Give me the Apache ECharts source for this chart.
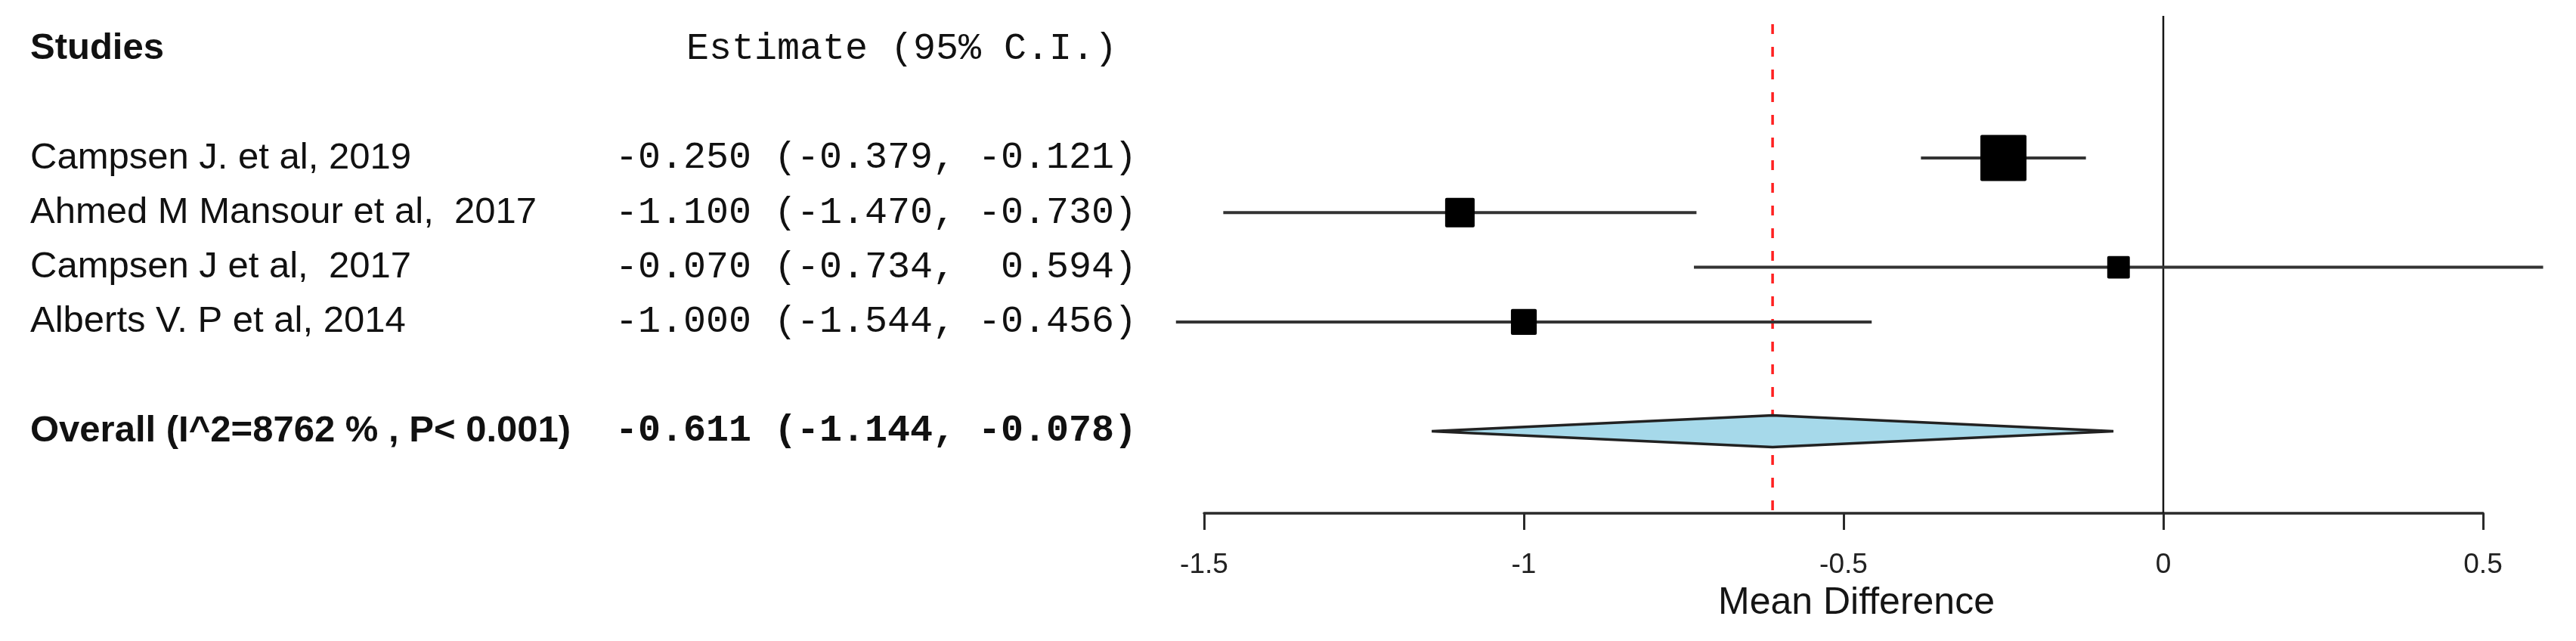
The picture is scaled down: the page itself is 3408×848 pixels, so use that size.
<!DOCTYPE html>
<html>
<head>
<meta charset="utf-8">
<title>Forest plot - Mean Difference</title>
<script src="https://cdn.jsdelivr.net/npm/echarts@6/dist/echarts.min.js"></script>
<style>
  html, body { margin: 0; padding: 0; background: #fff; }
  #forest { width: 3408px; height: 848px; }
</style>
</head>
<body>
<div id="forest"></div>
<script>
// study data
const studies = ['Campsen J. et al, 2019', 'Ahmed M Mansour et al,  2017', 'Campsen J et al,  2017', 'Alberts V. P et al, 2014']
const estimates = [-0.250, -1.100, -0.070, -1.000]
const ciLower = [-0.379, -1.470, -0.734, -1.544]
const ciUpper = [-0.121, -0.730, 0.594, -0.456]
const weights = [100, 64, 49, 56] // relative box size, % of the largest

const overallLabel = 'Overall (I^2=8762 % , P< 0.001)'
const overallEst = -0.611
const overallLower = -1.144
const overallUpper = -0.078

const headerLabels = ['Studies', 'Estimate (95% C.I.)']
const xTicks = [-1.5, -1, -0.5, 0, 0.5]
const xAxisName = 'Mean Difference'

const SANS = '"Liberation Sans", Arial, Helvetica, sans-serif'
const MONO = '"Liberation Mono", "Courier New", monospace'
const BOX_MAX = 61
const OVERALL_ROW = 6

function fmt (v) {
  return v.toFixed(3).padStart(6)
}
function ciText (e, lo, hi) {
  return fmt(e) + ' (' + fmt(lo) + ', ' + fmt(hi) + ')'
}

// text table on the left
const textRows = [{ row: -1, name: headerLabels[0], est: headerLabels[1], bold: true, estX: 908, estBold: false }]
studies.forEach((s, i) => {
  textRows.push({ row: i + 1, name: s, est: ciText(estimates[i], ciLower[i], ciUpper[i]), bold: false, estX: 814, estBold: false })
})
textRows.push({ row: OVERALL_ROW, name: overallLabel, est: ciText(overallEst, overallLower, overallUpper), bold: true, estX: 814, estBold: true })

const chart = echarts.init(document.getElementById('forest'))
chart.setOption({
  backgroundColor: '#ffffff',
  animation: false,
  grid: { left: 1593, right: 123, top: 21, bottom: 169 },
  xAxis: {
    type: 'value',
    min: xTicks[0],
    max: xTicks[xTicks.length - 1],
    interval: 0.5,
    name: xAxisName,
    nameLocation: 'middle',
    nameGap: 94,
    nameTextStyle: { fontFamily: SANS, fontSize: 50, color: '#151515', padding: [0, 0, 0, 34] },
    axisLine: { show: true, onZero: false, lineStyle: { color: '#2a2a2a', width: 3.5 } },
    axisTick: { show: true, length: 22, lineStyle: { color: '#2a2a2a', width: 3 } },
    axisLabel: { margin: 50, fontFamily: SANS, fontSize: 37, color: '#222' },
    splitLine: { show: false }
  },
  yAxis: {
    type: 'value',
    inverse: true,
    min: -1.6,
    max: 7.5,
    show: false
  },
  series: [
    {
      // zero line and dashed overall estimate line
      type: 'custom',
      name: 'ref',
      clip: false,
      silent: true,
      z: 1,
      encode: { x: 0 },
      data: [[0, 0], [overallEst, 1]],
      renderItem (params, api) {
        const x = api.value(0)
        const top = api.coord([x, -1.6])
        const bot = api.coord([x, 7.5])
        const dashed = api.value(1) === 1
        return {
          type: 'line',
          shape: { x1: top[0], y1: top[1], x2: bot[0], y2: bot[1] },
          style: dashed
            ? { stroke: '#ff2020', lineWidth: 3.5, lineDash: [13, 17], lineDashOffset: 19 }
            : { stroke: '#151515', lineWidth: 2.5 }
        }
      }
    },
    {
      // study CIs and weight boxes
      type: 'custom',
      name: 'studies',
      clip: false,
      z: 3,
      encode: { x: [0, 1, 2], y: 3 },
      data: estimates.map((e, i) => [e, ciLower[i], ciUpper[i], i + 1, weights[i]]),
      renderItem (params, api) {
        const row = api.value(3)
        const pLo = api.coord([api.value(1), row])
        const pHi = api.coord([api.value(2), row])
        const pEst = api.coord([api.value(0), row])
        const s = BOX_MAX * api.value(4) / 100
        return {
          type: 'group',
          children: [
            { type: 'line', shape: { x1: pLo[0], y1: pLo[1], x2: pHi[0], y2: pHi[1] }, style: { stroke: '#333', lineWidth: 4 } },
            { type: 'rect', shape: { x: pEst[0] - s / 2, y: pEst[1] - s / 2, width: s, height: s, r: 2 }, style: { fill: '#000' } }
          ]
        }
      }
    },
    {
      // overall diamond
      type: 'custom',
      name: 'overall',
      clip: false,
      z: 4,
      encode: { x: [0, 1, 2], y: 3 },
      data: [[overallEst, overallLower, overallUpper, OVERALL_ROW]],
      renderItem (params, api) {
        const row = api.value(3)
        const l = api.coord([api.value(1), row])
        const r = api.coord([api.value(2), row])
        const c = api.coord([api.value(0), row])
        const h = 21
        return {
          type: 'polygon',
          shape: { points: [[l[0], l[1]], [c[0], c[1] - h], [r[0], r[1]], [c[0], c[1] + h]] },
          style: { fill: '#a6d9ea', stroke: '#222', lineWidth: 3.5, lineJoin: 'miter' }
        }
      }
    },
    {
      // left text table
      type: 'custom',
      name: 'table',
      clip: false,
      silent: true,
      z: 5,
      encode: { y: 1 },
      data: textRows.map(t => [0, t.row]),
      renderItem (params, api) {
        const t = textRows[params.dataIndex]
        const y = api.coord([0, api.value(1)])[1]
        return {
          type: 'group',
          children: [
            {
              type: 'text',
              x: 40,
              y: y,
              style: {
                text: t.name,
                fill: '#111',
                font: (t.bold ? 'bold ' : '') + '49px ' + SANS,
                align: 'left',
                verticalAlign: 'middle'
              }
            },
            {
              type: 'text',
              x: t.estX,
              y: y,
              style: {
                text: t.est,
                fill: '#111',
                font: (t.estBold ? 'bold ' : '') + '50px ' + MONO,
                align: 'left',
                verticalAlign: 'middle'
              }
            }
          ]
        }
      }
    }
  ]
})
</script>
</body>
</html>
